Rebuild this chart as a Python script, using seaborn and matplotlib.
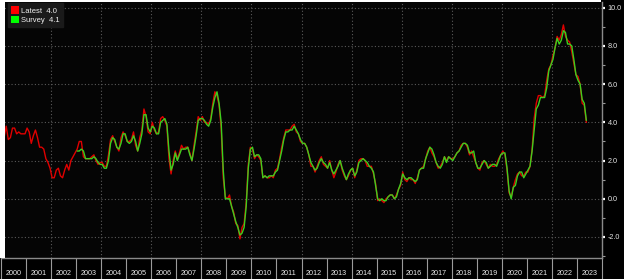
import numpy as np
import pandas as pd
import matplotlib
matplotlib.use("Agg")
import matplotlib.pyplot as plt
from matplotlib.patches import Patch, Rectangle
import seaborn as sns

# ---------------- data (monthly YoY %) ----------------
latest_start = "2000-01"
latest = [
    2.7, 3.2, 3.8, 3.1, 3.2, 3.7, 3.7, 3.4, 3.5, 3.4, 3.4, 3.4,      # 2000
    3.7, 3.5, 2.9, 3.3, 3.6, 3.2, 2.7, 2.7, 2.6, 2.1, 1.9, 1.6,      # 2001
    1.1, 1.1, 1.5, 1.6, 1.2, 1.1, 1.5, 1.8, 1.5, 2.0, 2.2, 2.4,      # 2002
    2.6, 3.0, 3.0, 2.2, 2.1, 2.1, 2.1, 2.2, 2.3, 2.0, 1.8, 1.9,      # 2003
    1.9, 1.7, 1.7, 2.3, 3.1, 3.3, 3.0, 2.7, 2.5, 3.2, 3.5, 3.3,      # 2004
    3.0, 3.0, 3.1, 3.5, 2.8, 2.5, 3.2, 3.6, 4.7, 4.3, 3.5, 3.4,      # 2005
    4.0, 3.6, 3.4, 3.5, 4.2, 4.3, 4.1, 3.8, 2.1, 1.3, 2.0, 2.5,      # 2006
    2.1, 2.4, 2.8, 2.6, 2.7, 2.7, 2.4, 2.0, 2.8, 3.5, 4.3, 4.1,      # 2007
    4.3, 4.0, 4.0, 3.9, 4.2, 5.0, 5.6, 5.4, 4.9, 3.7, 1.1, 0.1,      # 2008
    0.0, 0.2, -0.4, -0.7, -1.3, -1.4, -2.1, -1.5, -1.3, -0.2, 1.8, 2.7,  # 2009
    2.6, 2.1, 2.3, 2.2, 2.0, 1.1, 1.2, 1.1, 1.1, 1.2, 1.1, 1.5,      # 2010
    1.6, 2.1, 2.7, 3.2, 3.6, 3.6, 3.6, 3.8, 3.9, 3.5, 3.4, 3.0,      # 2011
    2.9, 2.9, 2.7, 2.3, 1.7, 1.7, 1.4, 1.7, 2.0, 2.2, 1.8, 1.7,      # 2012
    1.6, 2.0, 1.5, 1.1, 1.4, 1.8, 2.0, 1.5, 1.2, 1.0, 1.2, 1.5,      # 2013
    1.6, 1.1, 1.5, 2.0, 2.1, 2.1, 2.0, 1.7, 1.7, 1.7, 1.3, 0.8,      # 2014
    -0.1, 0.0, -0.1, -0.2, 0.0, 0.1, 0.2, 0.2, 0.0, 0.2, 0.5, 0.7,   # 2015
    1.4, 1.0, 0.9, 1.1, 1.0, 1.0, 0.8, 1.1, 1.5, 1.6, 1.7, 2.1,      # 2016
    2.5, 2.7, 2.4, 2.2, 1.9, 1.6, 1.7, 1.9, 2.2, 2.0, 2.2, 2.1,      # 2017
    2.1, 2.2, 2.4, 2.5, 2.8, 2.9, 2.9, 2.7, 2.3, 2.5, 2.2, 1.9,      # 2018
    1.6, 1.5, 1.9, 2.0, 1.8, 1.6, 1.8, 1.7, 1.7, 1.8, 2.1, 2.3,      # 2019
    2.5, 2.3, 1.5, 0.3, 0.1, 0.6, 1.0, 1.3, 1.4, 1.2, 1.2, 1.4,      # 2020
    1.4, 1.7, 2.6, 4.2, 5.0, 5.4, 5.4, 5.3, 5.4, 6.2, 6.8, 7.0,      # 2021
    7.5, 7.9, 8.5, 8.3, 8.6, 9.1, 8.5, 8.3, 8.2, 7.7, 7.1, 6.5,      # 2022
    6.4, 6.0, 5.0, 4.9, 4.0,                                         # 2023
]

survey_start = "2003-01"
survey = [
    2.5, 2.5, 2.6, 2.5, 2.1, 2.1, 2.1, 2.1, 2.2, 2.1, 1.9, 1.8,      # 2003
    1.8, 1.6, 1.6, 2.0, 2.9, 3.2, 3.1, 2.7, 2.6, 2.9, 3.4, 3.4,      # 2004
    3.0, 2.9, 3.0, 3.3, 3.0, 2.5, 2.9, 3.4, 4.4, 4.4, 3.7, 3.5,      # 2005
    3.8, 3.7, 3.4, 3.4, 4.0, 4.1, 4.2, 3.9, 2.5, 1.5, 1.8, 2.4,      # 2006
    2.0, 2.3, 2.6, 2.6, 2.6, 2.7, 2.3, 2.0, 2.6, 3.3, 4.1, 4.2,      # 2007
    4.2, 4.1, 3.9, 3.8, 4.1, 4.8, 5.3, 5.6, 5.0, 4.0, 1.5, 0.0,      # 2008
    0.0, 0.0, -0.4, -0.8, -1.2, -1.5, -1.9, -1.8, -1.5, -0.4, 1.6, 2.6,  # 2009
    2.7, 2.2, 2.3, 2.3, 2.1, 1.1, 1.2, 1.1, 1.2, 1.2, 1.2, 1.4,      # 2010
    1.5, 2.0, 2.5, 3.1, 3.5, 3.5, 3.6, 3.6, 3.8, 3.6, 3.4, 3.1,      # 2011
    2.9, 2.9, 2.7, 2.3, 1.9, 1.7, 1.5, 1.6, 1.9, 2.1, 1.9, 1.8,      # 2012
    1.6, 1.9, 1.5, 1.3, 1.5, 1.7, 2.0, 1.6, 1.3, 1.0, 1.3, 1.5,      # 2013
    1.6, 1.2, 1.4, 1.9, 2.0, 2.1, 2.0, 1.9, 1.7, 1.6, 1.4, 0.7,      # 2014
    0.0, -0.1, 0.0, -0.1, -0.1, 0.1, 0.2, 0.2, 0.0, 0.1, 0.5, 0.8,   # 2015
    1.3, 1.1, 1.0, 1.1, 1.1, 1.0, 0.9, 1.0, 1.5, 1.6, 1.6, 2.1,      # 2016
    2.4, 2.7, 2.6, 2.3, 1.9, 1.7, 1.6, 1.8, 2.2, 1.9, 2.2, 2.1,      # 2017
    2.0, 2.2, 2.4, 2.5, 2.7, 2.9, 2.9, 2.8, 2.4, 2.4, 2.5, 1.9,      # 2018
    1.6, 1.6, 1.8, 2.0, 1.9, 1.6, 1.7, 1.8, 1.8, 1.7, 2.0, 2.3,      # 2019
    2.4, 2.4, 1.6, 0.4, 0.0, 0.6, 0.7, 1.2, 1.4, 1.4, 1.1, 1.3,      # 2020
    1.5, 1.7, 2.5, 3.6, 4.7, 4.9, 5.3, 5.3, 5.3, 5.8, 6.7, 7.0,      # 2021
    7.3, 7.9, 8.4, 8.1, 8.3, 8.8, 8.7, 8.1, 8.1, 8.0, 7.3, 6.5,      # 2022
    6.2, 6.0, 5.2, 5.0, 4.1,                                         # 2023
]

series_names = ["Latest", "Survey"]
legend_values = [4.0, 4.1]
year_labels = [str(y) for y in range(2000, 2024)]
y_ticks = [-2.0, 0.0, 2.0, 4.0, 6.0, 8.0, 10.0]


def to_frame(values, start, name):
    idx = pd.period_range(start=start, periods=len(values), freq="M")
    xpos = idx.year + (idx.month - 0.5) / 12.0
    return pd.DataFrame({"x": xpos, "value": values, "series": name})


df = pd.concat([to_frame(latest, latest_start, series_names[0]),
                to_frame(survey, survey_start, series_names[1])],
               ignore_index=True)

# ---------------- styling ----------------
sns.set_theme(style="dark")
plt.rcParams["font.family"] = ["Liberation Sans", "DejaVu Sans"]

W, H = 624, 279
fig = plt.figure(figsize=(W / 100, H / 100), dpi=100, facecolor="black")
ax = fig.add_axes([1 / W, 21 / H, 601 / W, 256 / H])
ax.set_facecolor("#050505")

line_colors = {"Latest": "#e00000", "Survey": "#3ccf1e"}
sns.lineplot(data=df, x="x", y="value", hue="series", palette=line_colors,
             hue_order=series_names, linewidth=1.0, ax=ax, legend=False,
             estimator=None, sort=False)

ax.set_xlim(2000, 2024)
ax.set_ylim(-3.1, 10.3)
ax.set_xlabel("")
ax.set_ylabel("")

# spines
for s in ["left", "top"]:
    ax.spines[s].set_visible(False)
for s in ["right", "bottom"]:
    ax.spines[s].set_visible(True)
    ax.spines[s].set_color("#8a8a8a")
    ax.spines[s].set_linewidth(1.0)

# y axis on right
ax.yaxis.tick_right()
ax.set_yticks(y_ticks)
ax.set_yticklabels([f"{v:.1f}" for v in y_ticks])
ax.set_yticks(np.arange(-3, 11, 1.0)[[i for i, v in enumerate(np.arange(-3, 11, 1.0)) if v % 2 != 0]], minor=True)
ax.tick_params(axis="y", which="major", direction="out", length=2.5, width=1.6,
               color="white", labelcolor="#e8e8e8", labelsize=5.2, pad=1.5,
               left=False, right=True)
ax.tick_params(axis="y", which="minor", direction="out", length=1.8, width=0.8,
               color="#9a9a9a", left=False, right=True)

# x axis: year separators (major) and centered labels (minor)
ax.set_xticks(range(2000, 2025))
ax.set_xticklabels([])
ax.set_xticks([y + 0.5 for y in range(2000, 2024)], minor=True)
ax.set_xticklabels(year_labels, minor=True)
ax.tick_params(axis="x", which="major", direction="out", length=15.5, width=0.8,
               color="#9a9a9a", bottom=True)
ax.tick_params(axis="x", which="minor", length=0, labelsize=5.2,
               labelcolor="#e8e8e8", pad=8.5)

# grid
ax.grid(False)
ax.yaxis.grid(True, which="major", color="#5a5a5a", linestyle=(0, (1, 2)), linewidth=0.8)
for yr in range(2002, 2024, 2):
    ax.axvline(yr, color="#5a5a5a", linestyle=(0, (1, 2)), linewidth=0.8, zorder=0)

# legend
handles = [Patch(facecolor="#ff0000", edgecolor="none"),
           Patch(facecolor="#00ff00", edgecolor="none")]
labels = [f"{n}  {v:.1f}" for n, v in zip(series_names, legend_values)]
leg = fig.legend(handles, labels, loc="upper left",
                 bbox_to_anchor=(8 / W, 1 - 3 / H), bbox_transform=fig.transFigure,
                 fontsize=5.5, frameon=True, fancybox=False, framealpha=1,
                 facecolor="#1a1a1a", edgecolor="#1a1a1a",
                 handlelength=0.95, handleheight=1.1, handletextpad=0.25,
                 borderpad=0.45, labelspacing=0.12, borderaxespad=0)
for t in leg.get_texts():
    t.set_color("#f0f0f0")

# white margins of the screenshot
fig.patches.append(Rectangle((0, 21 / H), 5 / W, 1 - 21 / H, transform=fig.transFigure,
                             facecolor="white", edgecolor="none", zorder=10))
fig.patches.append(Rectangle((0, 1 - 2 / H), 601 / W, 2 / H, transform=fig.transFigure,
                             facecolor="white", edgecolor="none", zorder=10))

fig.savefig("out.png", dpi=100, facecolor="black")
